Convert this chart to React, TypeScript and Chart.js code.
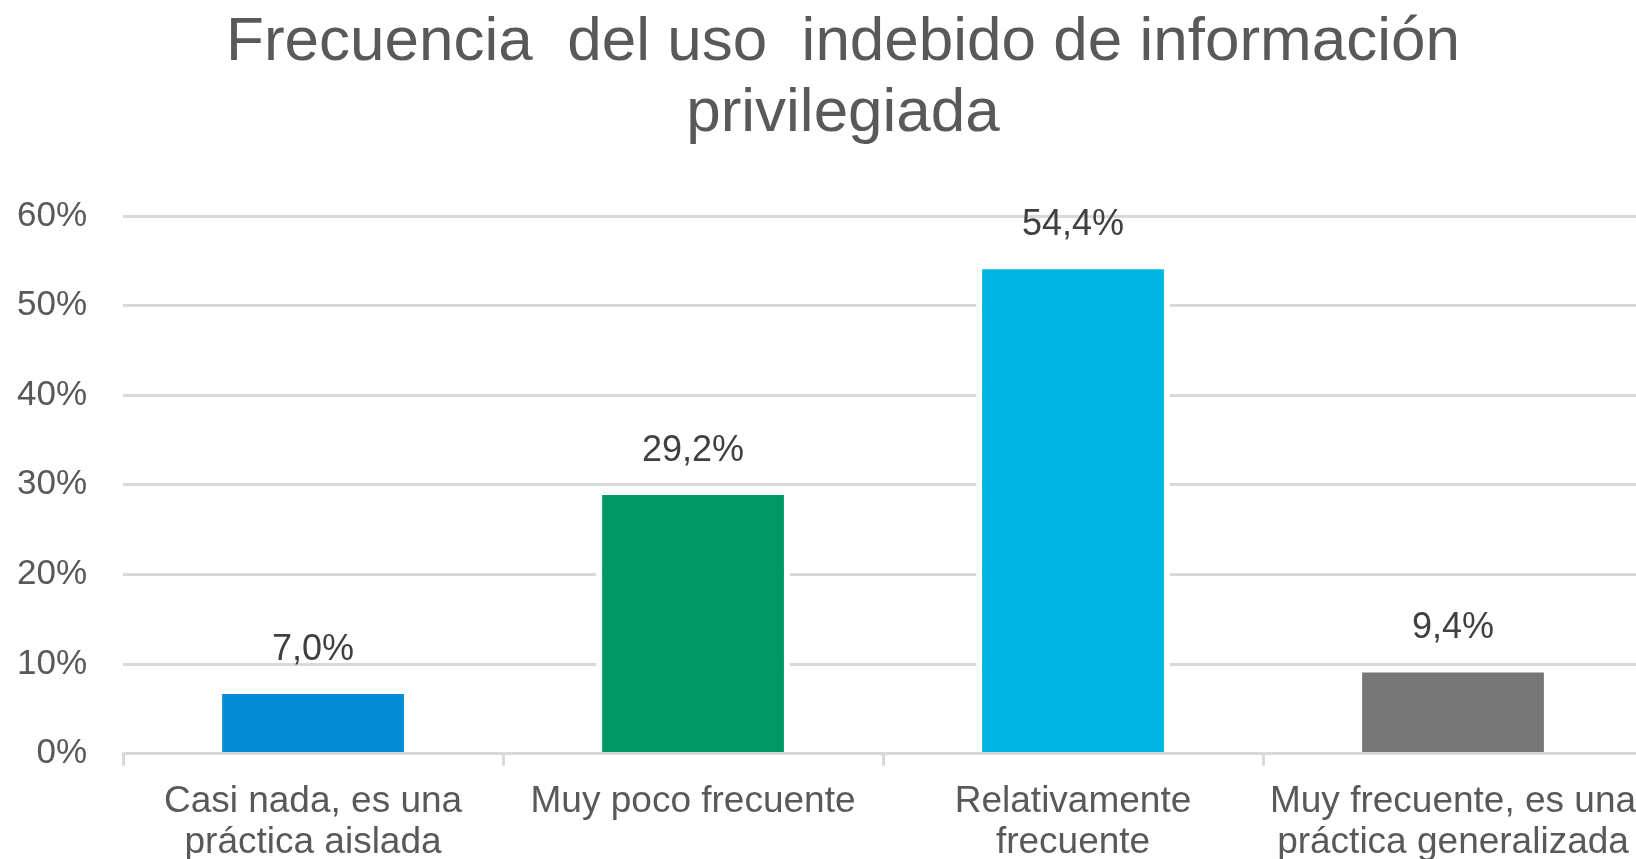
import React, { useEffect, useRef } from "react";
import { Chart, registerables } from "chart.js";

Chart.register(...registerables);

const categories: string[][] = [
  ["Casi nada, es una", "práctica aislada"],
  ["Muy poco frecuente"],
  ["Relativamente", "frecuente"],
  ["Muy frecuente, es una", "práctica generalizada"],
];
const values: number[] = [7.0, 29.2, 54.4, 9.4];
const barColors: string[] = ["#058cd7", "#009865", "#00b5e2", "#777777"];
const titleLines: string[] = ["Frecuencia  del uso  indebido de información", "privilegiada"];
const yTicks: number[] = [0, 10, 20, 30, 40, 50, 60];

const FONT = "'Liberation Sans', Arial, sans-serif";

const dataLabelPlugin = {
  id: "dataLabels",
  afterDatasetsDraw(chart: any) {
    const ctx = chart.ctx;
    const meta = chart.getDatasetMeta(0);
    ctx.save();
    ctx.font = `36px ${FONT}`;
    ctx.fillStyle = "#404040";
    ctx.textAlign = "center";
    ctx.textBaseline = "middle";
    meta.data.forEach((bar: any, i: number) => {
      const v = values[i];
      const txt = v.toFixed(1).replace(".", ",") + "%";
      ctx.fillText(txt, bar.x, bar.y - 41);
    });
    ctx.restore();
  },
};

const titlePlugin = {
  id: "customTitle",
  afterDraw(chart: any) {
    const ctx = chart.ctx;
    ctx.save();
    ctx.font = `62px ${FONT}`;
    ctx.fillStyle = "#595959";
    ctx.textAlign = "center";
    ctx.textBaseline = "middle";
    ctx.fillText(titleLines[0], 843, 43);
    ctx.fillText(titleLines[1], 843, 114);
    ctx.restore();
  },
};

export default function App() {
  const ref = useRef<HTMLCanvasElement | null>(null);
  useEffect(() => {
    if (!ref.current) return;
    const chart = new Chart(ref.current, {
      type: "bar",
      data: {
        labels: categories,
        datasets: [
          {
            data: values,
            backgroundColor: barColors,
            borderColor: "#ffffff",
            borderWidth: { left: 6, right: 6, top: 3, bottom: 0 },
            barPercentage: 0.51,
            categoryPercentage: 1,
          },
        ],
      },
      options: {
        responsive: false,
        animation: false,
        devicePixelRatio: 1,
        layout: { padding: { left: -19, right: 43, top: 216, bottom: -20 } },
        plugins: {
          legend: { display: false },
          tooltip: { enabled: false },
          title: { display: false },
        },
        scales: {
          x: {
            grid: {
              display: true,
              offset: true,
              drawOnChartArea: false,
              drawTicks: true,
              tickLength: 12,
              color: "#d9d9d9",
              lineWidth: 3,
            },
            border: { display: true, color: "#d9d9d9", width: 3 },
            ticks: {
              color: "#595959",
              font: { family: FONT, size: 37, lineHeight: 1.1 },
              padding: 16,
              maxRotation: 0,
              minRotation: 0,
              autoSkip: false,
            },
          },
          y: {
            min: 0,
            max: 60,
            afterBuildTicks: (axis: any) => {
              axis.ticks = yTicks.map((v) => ({ value: v }));
            },
            grid: { color: "#d9d9d9", lineWidth: 3, drawTicks: false },
            border: { display: false },
            ticks: {
              color: "#595959",
              font: { family: FONT, size: 35 },
              padding: 36,
              callback: (v: any) => `${v}%`,
            },
          },
        },
      },
      plugins: [dataLabelPlugin, titlePlugin],
    });
    return () => chart.destroy();
  }, []);
  return (
    <div
      style={{
        position: "fixed",
        left: 0,
        top: 0,
        width: 1636,
        height: 859,
        overflow: "hidden",
        background: "#ffffff",
      }}
    >
      <canvas ref={ref} width={1686} height={859} style={{ display: "block" }} />
    </div>
  );
}
